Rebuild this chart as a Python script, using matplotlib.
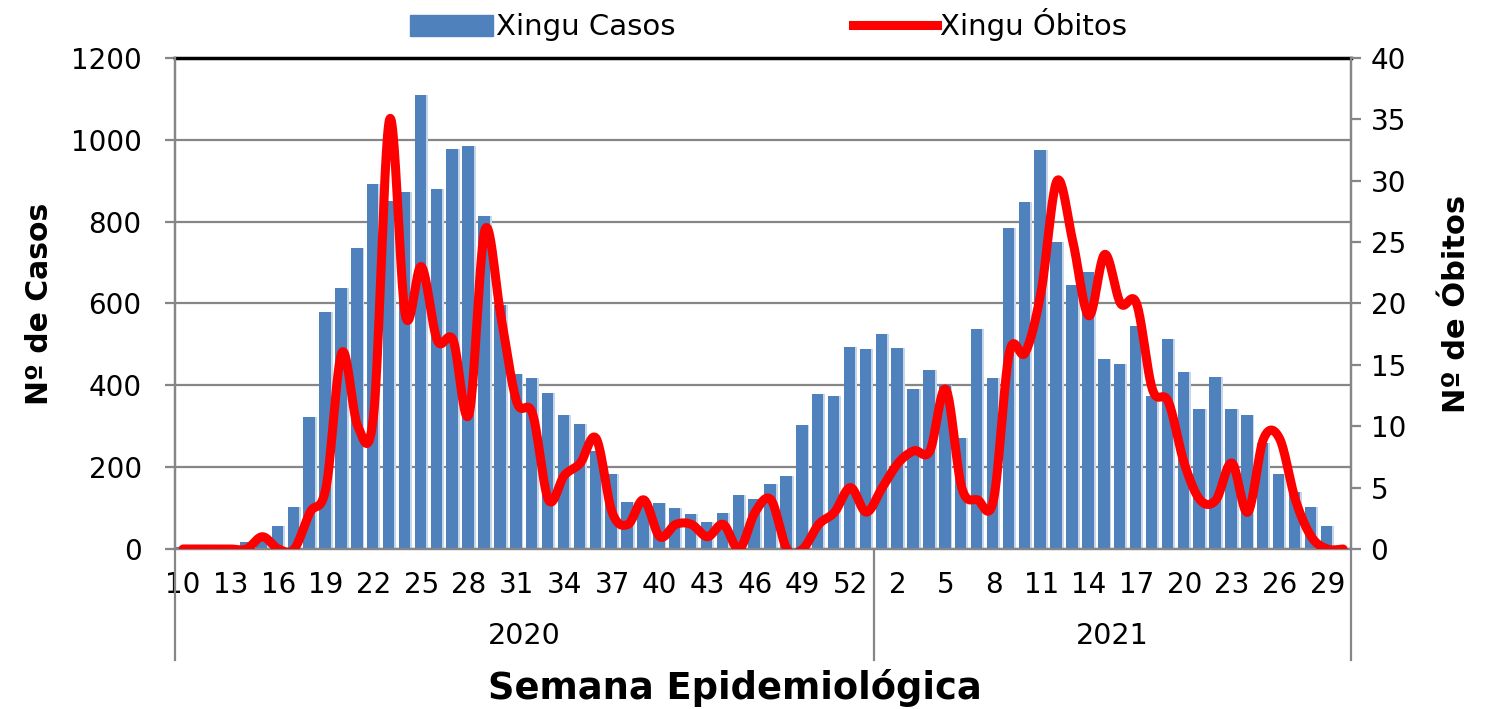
import numpy as np
import matplotlib
matplotlib.use('Agg')
import matplotlib.pyplot as plt
from matplotlib.patches import Patch
from matplotlib.lines import Line2D

# ==========================================
# 資料 (Xingu, semanas epidemiológicas)
# ==========================================
WEEKS_2020 = list(range(10, 54))   # 10..53
WEEKS_2021 = list(range(1, 31))    # 1..30

CASOS_2020 = [5, 0, 0, 0, 18, 20, 55, 102, 323, 578,
              637, 736, 893, 850, 873, 1110, 880, 978, 986, 815,
              597, 427, 418, 382, 327, 306, 240, 184, 114, 110,
              112, 100, 85, 66, 87, 131, 121, 159, 179, 304,
              380, 374, 494, 488]
CASOS_2021 = [525, 492, 391, 438, 400, 272, 537, 418, 785, 849,
              974, 750, 645, 678, 464, 451, 545, 375, 513, 432,
              343, 421, 341, 328, 260, 184, 140, 103, 56, 0]

OBITOS_2020 = [0, 0, 0, 0, 0, 1, 0, 0, 3, 5,
               16, 10, 11, 35, 19, 23, 17, 17, 11, 26,
               19, 12, 11, 4, 6, 7, 9, 3, 2, 4,
               1, 2, 2, 1, 2, 0, 3, 4, 0, 0,
               2, 3, 5, 3]
OBITOS_2021 = [5, 7, 8, 8, 13, 5, 4, 4, 16, 16,
               21, 30, 25, 19, 24, 20, 20, 13, 12, 7,
               4, 4, 7, 3, 9, 9, 4, 1, 0, 0]

YEARS = ['2020', '2021']

BLUE  = '#4F81BD'
LIGHT = '#C5D5EA'
GRID  = '#868686'


def smooth(xs, ys, n=24):
    """Excel 風格平滑線 (Catmull-Rom -> cubic Bezier)"""
    xs = np.asarray(xs, float); ys = np.asarray(ys, float)
    px = np.concatenate([[xs[0]], xs, [xs[-1]]])
    py = np.concatenate([[ys[0]], ys, [ys[-1]]])
    t = np.linspace(0, 1, n, endpoint=False)
    ox, oy = [], []
    for k in range(1, len(px) - 2):
        p0, p1, p2, p3 = px[k-1:k+3]
        q0, q1, q2, q3 = py[k-1:k+3]
        bx = [p1, p1 + (p2 - p0) / 6, p2 - (p3 - p1) / 6, p2]
        by = [q1, q1 + (q2 - q0) / 6, q2 - (q3 - q1) / 6, q2]
        for b, o in ((bx, ox), (by, oy)):
            o.extend((1-t)**3*b[0] + 3*(1-t)**2*t*b[1] + 3*(1-t)*t**2*b[2] + t**3*b[3])
    ox.append(xs[-1]); oy.append(ys[-1])
    return np.array(ox), np.array(oy)


weeks  = WEEKS_2020 + WEEKS_2021
casos  = np.array(CASOS_2020 + CASOS_2021)
obitos = np.array(OBITOS_2020 + OBITOS_2021)
x = np.arange(len(weeks))
n20 = len(WEEKS_2020)

plt.rcParams['font.family'] = ['DejaVu Sans']

fig = plt.figure(figsize=(14.86, 7.09), dpi=100)
ax = fig.add_axes([0.1178, 0.2257, 0.7914, 0.6925])

# bars: light edge behind, dark body in front
ax.bar(x, casos, width=0.84, color=LIGHT, zorder=2)
ax.bar(x - 0.42, casos, width=0.72, align='edge', color=BLUE, zorder=3)

ax.set_ylim(0, 1200)
ax.set_xlim(-0.5, len(x) - 0.5)
ax.set_yticks(np.arange(0, 1201, 200))
ax.yaxis.grid(True, color=GRID, lw=1.6, zorder=1)
ax.set_axisbelow(True)
ax.tick_params(axis='y', labelsize=20, length=7, width=1.6, color=GRID, pad=17)

ticks = x[::3]
ax.set_xticks(ticks)
ax.set_xticklabels([str(weeks[i]) for i in ticks], fontsize=20)
ax.tick_params(axis='x', length=0, pad=16)

for s in ['left', 'bottom', 'right']:
    ax.spines[s].set_color(GRID)
    ax.spines[s].set_linewidth(1.6)
ax.spines['top'].set_color('black')
ax.spines['top'].set_linewidth(2.5)

# 二層分類軸：年份分隔線
for b in [-0.5, n20 - 0.5, len(x) - 0.5]:
    ax.plot([b, b], [0, -0.226], color=GRID, lw=1.6,
            transform=ax.get_xaxis_transform(), clip_on=False)
ax.text((n20 - 1) / 2, -0.177, YEARS[0], fontsize=20.5, ha='center', va='center',
        transform=ax.get_xaxis_transform())
ax.text(n20 + (len(x) - n20 - 1) / 2, -0.177, YEARS[1], fontsize=20.5, ha='center',
        va='center', transform=ax.get_xaxis_transform())

ax.set_ylabel('Nº de Casos', fontsize=21.5, fontweight='bold', labelpad=12)
ax.set_xlabel('Semana Epidemiológica', fontsize=26.5, fontweight='bold', va='center')
ax.xaxis.set_label_coords(0.476, -0.283)

ax2 = ax.twinx()
sx, sy = smooth(x, obitos)
ax2.plot(sx, sy, color='red', lw=6.5, solid_capstyle='round', zorder=4)
ax2.set_ylim(0, 40)
ax2.set_yticks(np.arange(0, 41, 5))
ax2.tick_params(axis='y', labelsize=20, length=7, width=1.6, color=GRID, pad=7)
for s in ['left', 'bottom', 'right']:
    ax2.spines[s].set_color(GRID)
    ax2.spines[s].set_linewidth(1.6)
ax2.spines['top'].set_visible(False)
ax2.set_ylabel('Nº de Óbitos', fontsize=22, fontweight='bold', labelpad=26)

handles = [Patch(color=BLUE), Line2D([0], [0], color='red', lw=6.5)]
fig.legend(handles, ['Xingu Casos', 'Xingu Óbitos'], loc='center',
           bbox_to_anchor=(0.517, 0.965), ncol=2, frameon=False, fontsize=21,
           handlelength=2.86, handleheight=0.72, handletextpad=0.1, columnspacing=6.1)

fig.savefig('out.png', dpi=100)
